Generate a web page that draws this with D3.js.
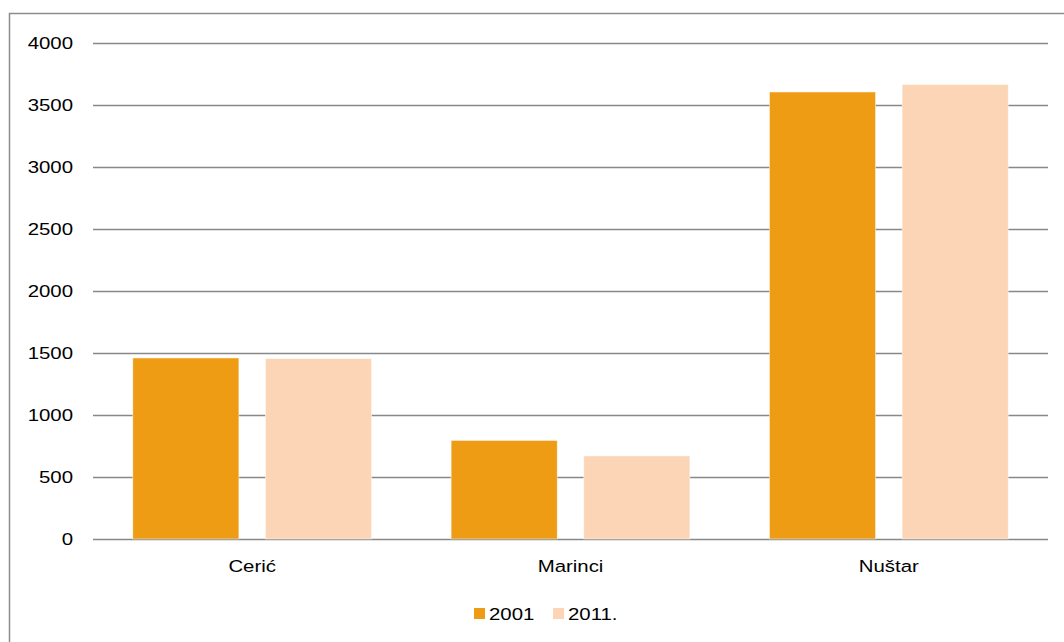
<!DOCTYPE html>
<html>
<head>
<meta charset="utf-8">
<script src="https://cdn.jsdelivr.net/npm/d3@7.9.0/dist/d3.min.js"></script>
<style>
  body { margin: 0; background: #fff; }
  svg { display: block; font-family: "Liberation Sans", Arial, sans-serif; }
</style>
</head>
<body>
<div id="chart"></div>
<script>
const places = ['Cerić', 'Marinci', 'Nuštar'];
const years = ['2001', '2011.'];
const values2001 = [1460, 795, 3605];
const values2011 = [1455, 670, 3665];
const yTicks = [0, 500, 1000, 1500, 2000, 2500, 3000, 3500, 4000];
const colors = ['#ee9c13', '#fbd5b5'];

const width = 1064;
const height = 642;
const margin = { top: 43, right: 16, bottom: 103, left: 93 };
const fontSize = 17;
const stretch = 1.2; // the reference text is a bit wider than plain Arial

const svg = d3.select('#chart')
  .append('svg')
  .attr('width', width)
  .attr('height', height);

// outer frame
svg.append('rect')
  .attr('x', 9.5)
  .attr('y', 13.5)
  .attr('width', width + 20)
  .attr('height', height + 20)
  .attr('fill', 'none')
  .attr('stroke', '#8c8c8c')
  .attr('stroke-width', 1.5);

const x = d3.scaleBand()
  .domain(places)
  .range([margin.left, width - margin.right])
  .paddingInner(0.25)
  .paddingOuter(0.125);

const xInner = d3.scaleBand()
  .domain(years)
  .range([0, x.bandwidth()])
  .paddingInner(0.2);

const y = d3.scaleLinear()
  .domain([0, 4000])
  .range([height - margin.bottom, margin.top]);

// gridlines
svg.append('g')
  .attr('transform', `translate(${margin.left},0)`)
  .call(d3.axisLeft(y).tickValues(yTicks).tickFormat('').tickSize(-(width - margin.left - margin.right)))
  .call(g => g.select('.domain').remove())
  .call(g => g.selectAll('line').attr('stroke', '#888').attr('stroke-width', 1.5));

// y labels
svg.append('g')
  .attr('transform', `translate(${margin.left},0)`)
  .call(d3.axisLeft(y).tickValues(yTicks).tickFormat(d3.format('d')).tickSize(0))
  .attr('font-size', fontSize)
  .attr('font-family', '"Liberation Sans", Arial, sans-serif')
  .call(g => g.select('.domain').remove())
  .call(g => g.selectAll('text')
    .attr('fill', '#000')
    .attr('x', 0)
    .attr('transform', `translate(-20,0) scale(${stretch},1)`));

const series = [values2001, values2011];
const rows = places.map((p, i) => ({ place: p, vals: years.map((yr, j) => ({ year: yr, value: series[j][i], j })) }));

const groups = svg.append('g').selectAll('g')
  .data(rows)
  .join('g')
  .attr('transform', d => `translate(${x(d.place)},0)`);

groups.selectAll('rect')
  .data(d => d.vals)
  .join('rect')
  .attr('x', d => xInner(d.year))
  .attr('y', d => y(d.value))
  .attr('width', xInner.bandwidth())
  .attr('height', d => y(0) - y(d.value))
  .attr('fill', d => colors[d.j])
  .attr('stroke', '#fff')
  .attr('stroke-opacity', 0.6)
  .attr('stroke-width', 0.8);

// category labels
svg.append('g')
  .attr('transform', `translate(0,${y(0)})`)
  .call(d3.axisBottom(x).tickSize(0).tickPadding(21))
  .attr('font-size', fontSize)
  .attr('font-family', '"Liberation Sans", Arial, sans-serif')
  .call(g => g.select('.domain').remove())
  .call(g => g.selectAll('text')
    .attr('fill', '#000')
    .attr('transform', `scale(${stretch},1)`));

// legend
const legendX = [474, 553];
const legend = svg.append('g').selectAll('g')
  .data(years)
  .join('g')
  .attr('transform', (d, i) => `translate(${legendX[i]},608)`);

legend.append('rect')
  .attr('width', 11)
  .attr('height', 11)
  .attr('fill', (d, i) => colors[i]);

legend.append('text')
  .attr('transform', `translate(15,11.5) scale(${stretch},1)`)
  .attr('font-size', fontSize)
  .text(d => d);
</script>
</body>
</html>
